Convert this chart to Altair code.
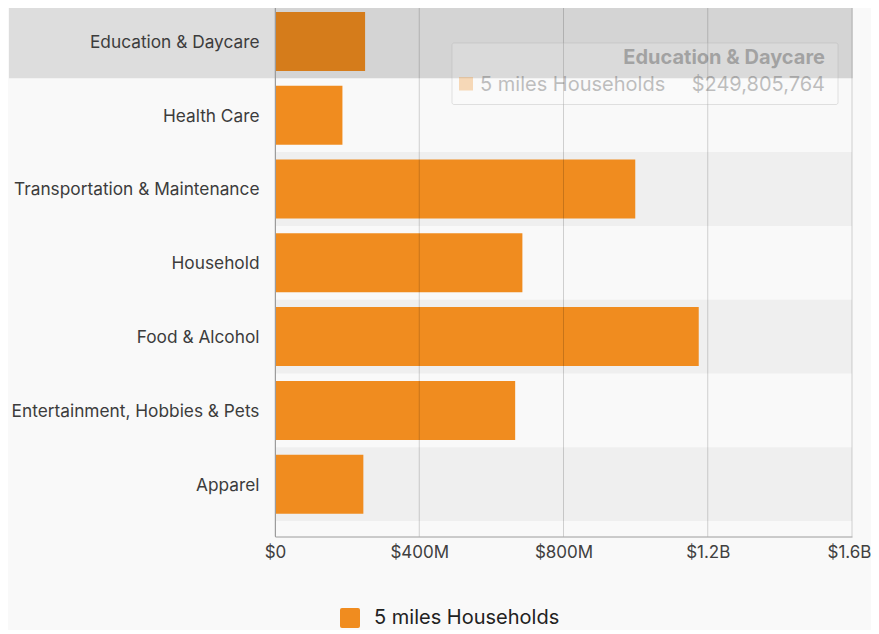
import altair as alt
import pandas as pd

categories = [
    "Education & Daycare",
    "Health Care",
    "Transportation & Maintenance",
    "Household",
    "Food & Alcohol",
    "Entertainment, Hobbies & Pets",
    "Apparel",
]
values = [249805764, 187000000, 999000000, 686000000, 1175000000, 666000000, 245000000]
series_name = "5 miles Households"
stripe_flags = [1, 0, 1, 0, 1, 0, 1]
x_ticks = [0, 400e6, 800e6, 1200e6, 1600e6]
hovered = "Education & Daycare"

df = pd.DataFrame({
    "category": categories,
    "value": values,
    "series": series_name,
    "stripe": stripe_flags,
})
ticks_df = pd.DataFrame({"tick": x_ticks})

W, H = 577, 532
FONT = "Inter"

label_expr = (
    "datum.value == 0 ? '$0' : (datum.value < 1e9 ? '$' + format(datum.value / 1e6, 'd') + 'M'"
    " : '$' + format(datum.value / 1e9, '.1f') + 'B')"
)

x_scale = alt.Scale(domain=[0, 1.6e9], nice=False, zero=True)
x_axis = alt.Axis(
    title=None, values=x_ticks, labelExpr=label_expr, grid=False, ticks=False,
    domain=True, domainColor="#9c9c9c", labelFontSize=17, labelColor="#404040",
    labelFont=FONT, labelPadding=8, labelFlush=False, labelOverlap=False,
    labelOffset={"expr": "datum.value >= 1.6e9 ? -3 : 0"},
)
y_enc = alt.Y(
    "category:N", sort=categories,
    scale=alt.Scale(paddingInner=0, paddingOuter=0.1045, align=0),
    axis=alt.Axis(
        title=None, ticks=False, domain=True, domainColor="#9c9c9c",
        labelFontSize=17.3, labelColor="#3c3c3c", labelFont=FONT,
        labelPadding=16, labelLimit=400, labelBaseline="middle", labelOffset=1.5, zindex=1,
    ),
)

base = alt.Chart(df)

stripes = base.transform_filter("datum.stripe == 1").mark_rect(color="#efefef").encode(
    y=y_enc, x=alt.value(0), x2=alt.value(W)
)

bars = base.mark_bar(size=59).encode(
    x=alt.X("value:Q", scale=x_scale, axis=x_axis),
    y=y_enc,
    color=alt.Color(
        "series:N",
        scale=alt.Scale(range=["#F08C1F"]),
        legend=alt.Legend(
            title=None, orient="none", legendX=65, legendY=603.5, direction="horizontal",
            symbolType="M-0.8,-1H0.8Q1,-1,1,-0.8V0.8Q1,1,0.8,1H-0.8Q-1,1,-1,0.8V-0.8Q-1,-1,-0.8,-1Z",
            symbolSize=400, symbolStrokeWidth=0, symbolOpacity=1,
            labelFontSize=20, labelFont=FONT, labelColor="#222222", labelOffset=14,
            labelLimit=400, padding=0,
        ),
    ),
)

grid = alt.Chart(ticks_df).mark_rule(color="black", opacity=0.17, strokeWidth=1).encode(
    x=alt.X("tick:Q", scale=x_scale, axis=x_axis), y=alt.value(0), y2=alt.value(H)
)

hover_df = base.transform_filter(alt.datum.category == hovered)

overlay = hover_df.mark_rect(color="black", opacity=0.11).encode(
    y=y_enc, x=alt.value(-266), x2=alt.value(W + 1)
)

tip_box = hover_df.mark_rect(
    fill="white", fillOpacity=0.15, stroke="#b0b0b0", strokeOpacity=0.35, strokeWidth=1, cornerRadius=2
).encode(x=alt.value(177), x2=alt.value(563), y=alt.value(38.5), y2=alt.value(100))

tip_title = hover_df.mark_text(
    align="right", baseline="alphabetic", font=FONT, fontSize=20, fontWeight="bold",
    color="#333333", opacity=0.33,
).encode(text="category:N", x=alt.value(550), y=alt.value(59))

tip_swatch = hover_df.mark_rect(color="#F08C1F", opacity=0.3).encode(
    x=alt.value(184), x2=alt.value(198), y=alt.value(72.5), y2=alt.value(86)
)

tip_series = hover_df.mark_text(
    align="left", baseline="alphabetic", font=FONT, fontSize=20, color="#333333", opacity=0.3,
).encode(text="series:N", x=alt.value(205), y=alt.value(86))

tip_value = hover_df.mark_text(
    align="right", baseline="alphabetic", font=FONT, fontSize=20, color="#333333", opacity=0.3,
).encode(text=alt.Text("value:Q", format="$,d"), x=alt.value(550), y=alt.value(86))

chart = (
    alt.layer(stripes, bars, grid, overlay, tip_box, tip_title, tip_swatch, tip_series, tip_value)
    .properties(
        width=W, height=H,
        padding={"left": 267, "top": -3.5, "right": 19, "bottom": 93.5},
        autosize=alt.AutoSizeParams(type="none"),
        background="#f9f9f9",
    )
    .configure(font=FONT)
    .configure_view(strokeWidth=0)
)

chart.save("out.html", embed_options={"renderer": "svg", "actions": False})
